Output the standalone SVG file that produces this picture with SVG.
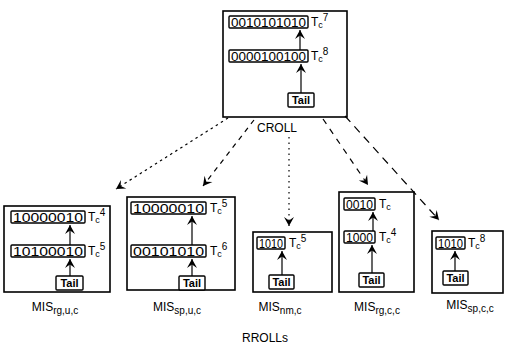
<svg xmlns="http://www.w3.org/2000/svg" width="505" height="351" viewBox="0 0 505 351">
<style>
.frame{fill:#fff;stroke:#000;stroke-width:1.6}
.cell{fill:#fff;stroke:#000;stroke-width:1.4}
.bits{font-family:"Liberation Sans",Arial,sans-serif;font-size:12px;fill:#000}
.tc{font-family:"Liberation Sans",Arial,sans-serif;font-size:12px;fill:#000}
.tail{font-family:"Liberation Sans",Arial,sans-serif;font-size:11px;font-weight:bold;fill:#000}
.lbl{font-family:"Liberation Sans",Arial,sans-serif;font-size:12px;fill:#000}
.in{stroke:#000;stroke-width:1.2;fill:none;marker-end:url(#ah)}
.c{stroke:#000;stroke-width:1.2;fill:none;marker-end:url(#ah)}
</style>
<defs>
<marker id="ah" viewBox="-11 -6 12 12" markerWidth="12" markerHeight="12" refX="0" refY="0" orient="auto" markerUnits="userSpaceOnUse">
<path d="M0,0 L-9,-5 L-5.5,0 L-9,5 Z" fill="#000"/>
</marker>
</defs>
<rect width="505" height="351" fill="#fff"/>

<g id="croll">
<rect class="frame" x="223" y="11" width="124" height="106"/>
<rect class="cell" x="229" y="16" width="79" height="12" rx="1"/>
<text class="bits" x="231" y="26.5" textLength="75" lengthAdjust="spacingAndGlyphs">0010101010</text>
<text class="tc" x="311" y="26">T<tspan font-size="9" dy="2">c</tspan><tspan font-size="10" dy="-7">7</tspan></text>
<line class="in" x1="300" y1="50" x2="300" y2="30"/>
<rect class="cell" x="229" y="50" width="79" height="12" rx="1"/>
<text class="bits" x="231" y="60.5" textLength="75" lengthAdjust="spacingAndGlyphs">0000100100</text>
<text class="tc" x="311" y="60">T<tspan font-size="9" dy="2">c</tspan><tspan font-size="10" dy="-7">8</tspan></text>
<line class="in" x1="301" y1="93" x2="301" y2="64"/>
<rect class="cell" x="288" y="93" width="26" height="14" rx="1"/>
<text class="tail" x="301" y="104" text-anchor="middle">Tail</text>
<text class="lbl" x="277" y="132" text-anchor="middle">CROLL</text>
</g>

<g id="mis-rg-u-c">
<rect class="frame" x="4" y="206" width="106" height="86"/>
<rect class="cell" x="11" y="211" width="74" height="12" rx="1"/>
<text class="bits" x="13" y="221.5" textLength="70" lengthAdjust="spacingAndGlyphs">10000010</text>
<text class="tc" x="88" y="221">T<tspan font-size="9" dy="2">c</tspan><tspan font-size="10" dy="-7">4</tspan></text>
<line class="in" x1="70" y1="245" x2="70" y2="225"/>
<rect class="cell" x="11" y="245" width="74" height="12" rx="1"/>
<text class="bits" x="13" y="255.5" textLength="70" lengthAdjust="spacingAndGlyphs">10100010</text>
<text class="tc" x="88" y="255">T<tspan font-size="9" dy="2">c</tspan><tspan font-size="10" dy="-7">5</tspan></text>
<line class="in" x1="70" y1="276" x2="70" y2="259"/>
<rect class="cell" x="56" y="276" width="27" height="14" rx="1"/>
<text class="tail" x="69.5" y="287" text-anchor="middle">Tail</text>
<text class="lbl" x="55" y="311" text-anchor="middle">MIS<tspan font-size="10" dy="3">rg,u,c</tspan></text>
</g>

<g id="mis-sp-u-c">
<rect class="frame" x="127" y="197" width="108" height="93"/>
<rect class="cell" x="131" y="202" width="75" height="12" rx="1"/>
<text class="bits" x="133" y="212.5" textLength="71" lengthAdjust="spacingAndGlyphs">10000010</text>
<text class="tc" x="210" y="212">T<tspan font-size="9" dy="2">c</tspan><tspan font-size="10" dy="-7">5</tspan></text>
<line class="in" x1="192" y1="245" x2="192" y2="216"/>
<rect class="cell" x="131" y="245" width="75" height="12" rx="1"/>
<text class="bits" x="133" y="255.5" textLength="71" lengthAdjust="spacingAndGlyphs">00101010</text>
<text class="tc" x="210" y="255">T<tspan font-size="9" dy="2">c</tspan><tspan font-size="10" dy="-7">6</tspan></text>
<line class="in" x1="192" y1="276" x2="192" y2="259"/>
<rect class="cell" x="179" y="276" width="26" height="14" rx="1"/>
<text class="tail" x="192" y="287" text-anchor="middle">Tail</text>
<text class="lbl" x="177" y="311" text-anchor="middle">MIS<tspan font-size="10" dy="3">sp,u,c</tspan></text>
</g>

<g id="mis-nm-c">
<rect class="frame" x="253" y="232" width="79" height="60"/>
<rect class="cell" x="257" y="237" width="28" height="12" rx="1"/>
<text class="bits" x="259" y="247.5" textLength="24" lengthAdjust="spacingAndGlyphs">1010</text>
<text class="tc" x="289" y="247">T<tspan font-size="9" dy="2">c</tspan><tspan font-size="10" dy="-7">5</tspan></text>
<line class="in" x1="282" y1="275" x2="282" y2="251"/>
<rect class="cell" x="269" y="275" width="25" height="14" rx="1"/>
<text class="tail" x="281.5" y="286" text-anchor="middle">Tail</text>
<text class="lbl" x="280" y="311" text-anchor="middle">MIS<tspan font-size="10" dy="3">nm,c</tspan></text>
</g>

<g id="mis-rg-c-c">
<rect class="frame" x="339" y="192" width="75" height="100"/>
<rect class="cell" x="344" y="198" width="31" height="12" rx="1"/>
<text class="bits" x="346" y="208.5" textLength="27" lengthAdjust="spacingAndGlyphs">0010</text>
<text class="tc" x="379" y="208">T<tspan font-size="9" dy="2">c</tspan></text>
<line class="in" x1="373" y1="231" x2="373" y2="212"/>
<rect class="cell" x="344" y="231" width="31" height="12" rx="1"/>
<text class="bits" x="346" y="241.5" textLength="27" lengthAdjust="spacingAndGlyphs">1000</text>
<text class="tc" x="379" y="241">T<tspan font-size="9" dy="2">c</tspan><tspan font-size="10" dy="-7">4</tspan></text>
<line class="in" x1="372" y1="273" x2="372" y2="245"/>
<rect class="cell" x="359" y="273" width="25" height="14" rx="1"/>
<text class="tail" x="371.5" y="284" text-anchor="middle">Tail</text>
<text class="lbl" x="377" y="311" text-anchor="middle">MIS<tspan font-size="10" dy="3">rg,c,c</tspan></text>
</g>

<g id="mis-sp-c-c">
<rect class="frame" x="432" y="231" width="71" height="62"/>
<rect class="cell" x="436" y="237" width="29" height="12" rx="1"/>
<text class="bits" x="438" y="247.5" textLength="25" lengthAdjust="spacingAndGlyphs">1010</text>
<text class="tc" x="468" y="247">T<tspan font-size="9" dy="2">c</tspan><tspan font-size="10" dy="-7">8</tspan></text>
<line class="in" x1="455" y1="271" x2="455" y2="251"/>
<rect class="cell" x="443" y="271" width="25" height="14" rx="1"/>
<text class="tail" x="455.5" y="282" text-anchor="middle">Tail</text>
<text class="lbl" x="470" y="309" text-anchor="middle">MIS<tspan font-size="10" dy="3">sp,c,c</tspan></text>
</g>

<g id="connectors">
<line class="c" x1="228" y1="118" x2="116" y2="189" stroke-dasharray="2.5,3.5"/>
<line class="c" x1="254" y1="120" x2="203" y2="186" stroke-dasharray="5,5"/>
<line class="c" x1="289" y1="137" x2="289" y2="226" stroke-dasharray="1.5,4"/>
<line class="c" x1="323" y1="119" x2="368" y2="185" stroke-dasharray="6,6"/>
<line class="c" x1="345" y1="116" x2="439" y2="220" stroke-dasharray="8,6"/>
</g>

<text class="lbl" x="242" y="342" font-size="11">RROLLs</text>
</svg>
